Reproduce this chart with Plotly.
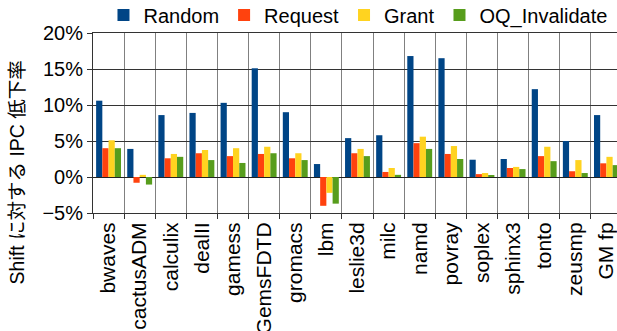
import plotly.graph_objects as go

benchmarks = ["bwaves", "cactusADM", "calculix", "dealII", "gamess", "GemsFDTD",
              "gromacs", "lbm", "leslie3d", "milc", "namd", "povray", "soplex",
              "sphinx3", "tonto", "zeusmp", "GM fp"]

random_pct = [10.6, 3.9, 8.6, 8.9, 10.3, 15.1, 9.0, 1.8, 5.4, 5.8, 16.8, 16.5, 2.4, 2.5, 12.2, 5.0, 8.6]
request_pct = [4.0, -0.8, 2.6, 3.3, 2.9, 3.2, 2.6, -4.0, 3.3, 0.7, 4.7, 3.2, 0.4, 1.25, 2.9, 0.8, 1.9]
grant_pct = [5.1, 0.3, 3.2, 3.75, 4.0, 4.2, 3.3, -2.2, 3.9, 1.25, 5.6, 4.3, 0.55, 1.4, 4.2, 2.35, 2.8]
oq_invalidate_pct = [4.0, -1.05, 2.8, 2.35, 1.95, 3.3, 2.35, -3.7, 2.9, 0.3, 3.9, 2.5, 0.15, 1.1, 2.2, 0.55, 1.65]

series = [
    ("Random", random_pct, "#004586"),
    ("Request", request_pct, "#ff420e"),
    ("Grant", grant_pct, "#ffd320"),
    ("OQ_Invalidate", oq_invalidate_pct, "#579d1c"),
]

font_family = "Liberation Sans, Arial, Noto Sans CJK JP, sans-serif"

fig = go.Figure()
for name, vals, color in series:
    fig.add_trace(go.Bar(x=benchmarks, y=vals, name=name,
                         marker=dict(color=color, line=dict(width=0))))

fig.update_layout(
    width=617, height=331,
    margin=dict(l=93, r=0, t=33, b=118, autoexpand=False),
    paper_bgcolor="white", plot_bgcolor="white",
    font=dict(family=font_family, size=20, color="black"),
    barmode="group", bargap=0.2, bargroupgap=0,
    legend=dict(orientation="h", x=0.02, xanchor="left",
                y=1 - 15 / 331, yanchor="middle", yref="container",
                font=dict(size=20), itemwidth=30, tracegroupgap=0,
                bgcolor="rgba(0,0,0,0)"),
    showlegend=True,
    annotations=[dict(text="Shift に対する IPC 低下率", textangle=-90,
                      xref="paper", yref="paper", x=-0.146, y=0.228,
                      xanchor="center", yanchor="middle", showarrow=False,
                      font=dict(size=19.5))],
)

# The category axis runs past the right edge, so the last group is clipped.
fig.update_xaxes(
    type="category", tickson="boundaries", range=[-0.5, 16.34],
    showgrid=True, gridcolor="#808080", gridwidth=1,
    ticks="outside", ticklen=5, tickcolor="#333333",
    showline=True, linecolor="#333333", mirror=True,
    tickangle=-90, tickfont=dict(size=21),
)

fig.update_yaxes(
    range=[-5, 20], dtick=5, ticksuffix="%",
    showgrid=True, gridcolor="#333333", gridwidth=1,
    zeroline=True, zerolinecolor="#222222", zerolinewidth=1,
    ticks="outside", ticklen=5, tickcolor="#333333",
    showline=True, linecolor="#333333", mirror=False,
    tickfont=dict(size=20),
)

fig.write_html("out.html")
